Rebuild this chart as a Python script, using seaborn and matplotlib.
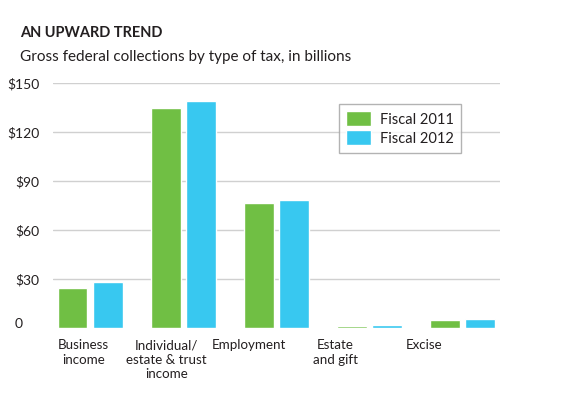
import pandas as pd
import seaborn as sns
import matplotlib.pyplot as plt
from matplotlib.transforms import ScaledTranslation

categories = ['Business\nincome', 'Individual/\nestate & trust\nincome', 'Employment', 'Estate\nand gift', 'Excise']
fiscal_2011 = [24.2, 134.6, 76.6, 1.4, 4.9]
fiscal_2012 = [28.2, 138.7, 78.5, 2.0, 5.7]
series = ['Fiscal 2011', 'Fiscal 2012']
y_ticks = [0, 30, 60, 90, 120, 150]
y_labels = ['0', '$30', '$60', '$90', '$120', '$150']

df = pd.DataFrame({
    'type': categories * 2,
    'value': fiscal_2011 + fiscal_2012,
    'year': [series[0]] * len(categories) + [series[1]] * len(categories),
})

sns.set_style('white')
plt.rcParams['font.family'] = ['Lato', 'DejaVu Sans']
text_col = '#231f20'

fig = plt.figure(figsize=(5.7, 3.98), dpi=100)
ax = fig.add_axes([0.093, 0.176, 0.784, 0.616])

sns.barplot(data=df, x='type', y='value', hue='year', order=categories,
            palette=['#70bf44', '#38c8f0'], width=0.76, gap=0.16,
            saturation=1, ax=ax, zorder=3)

ax.set_ylim(0, 150)
ax.set_xlim(-0.4, 4.4)
ax.set_yticks(y_ticks, y_labels)
for y in y_ticks[1:]:
    ax.axhline(y, color='#d0d0d0', lw=1, zorder=1)

# category labels sit a bit left of the bar pairs in the original
label_x = [-0.07, 0.82, 1.70, 2.63, 3.59]
ax.set_xticks(label_x, categories)
ax.tick_params(axis='x', length=0, pad=8, labelsize=9.6, labelcolor=text_col)
ax.tick_params(axis='y', length=0, pad=10, labelsize=10, labelcolor=text_col)
for lab in ax.get_xticklabels():
    lab.set_linespacing(1.25)
# the "0" label is nudged left and up
zero = ax.get_yticklabels()[0]
zero.set_transform(zero.get_transform() + ScaledTranslation(-0.16, 0.05, fig.dpi_scale_trans))
ax.set_xlabel('')
ax.set_ylabel('')
sns.despine(ax=ax, left=True, bottom=True)

leg = ax.legend(title=None, loc='upper left', bbox_to_anchor=(0.64, 0.914),
                borderaxespad=0, fontsize=10.5, frameon=True, fancybox=False,
                handlelength=1.7, handleheight=1.2, handletextpad=0.6,
                borderpad=0.5, labelspacing=0.25, labelcolor=text_col)
leg.get_frame().set_edgecolor('#a0a0a0')
leg.get_frame().set_linewidth(1)

fig.text(0.035, 0.918, 'AN UPWARD TREND', fontsize=10.5, fontweight='bold',
         color=text_col, va='center')
fig.text(0.035, 0.858, 'Gross federal collections by type of tax, in billions',
         fontsize=11, color=text_col, va='center')

fig.savefig('out.png', dpi=100, facecolor='white')
